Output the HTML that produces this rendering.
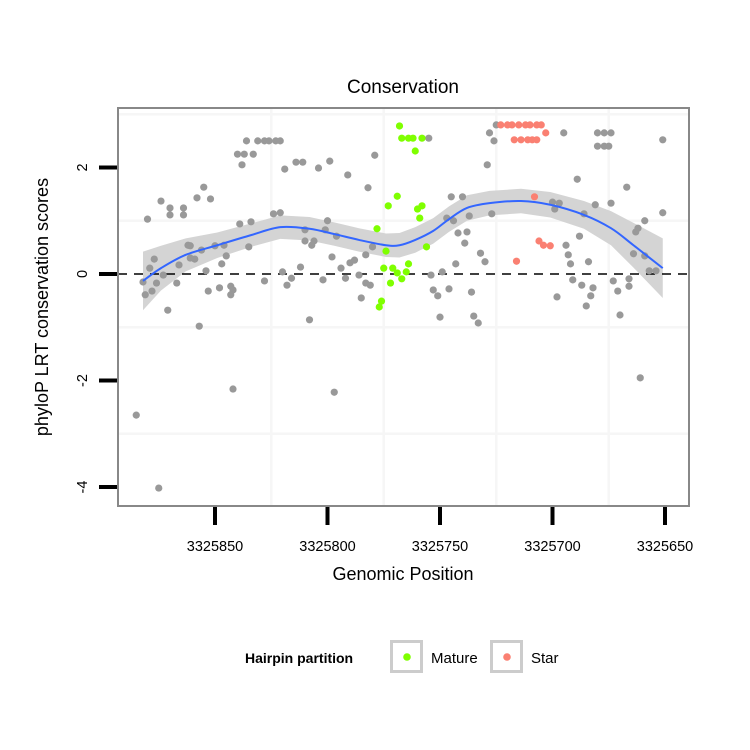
<!DOCTYPE html>
<html><head><meta charset="utf-8"><style>
html,body{margin:0;padding:0;background:#fff;}
svg{display:block;font-family:"Liberation Sans",sans-serif;}
</style></head><body>
<svg id="chart" width="750" height="750" viewBox="0 0 750 750">
<rect x="0" y="0" width="750" height="750" fill="#fff"/>
<text x="403" y="93" font-size="19" text-anchor="middle">Conservation</text>
<rect x="118" y="108" width="571" height="398" fill="#fff"/>
<g id="grid"></g>
<g id="band"></g>
<line x1="118" x2="689" id="zeroline" stroke="#000" stroke-width="1.6" stroke-dasharray="9,7"/>
<g id="points"></g>
<g id="smooth"></g>
<rect x="118" y="108" width="571" height="398" fill="none" stroke="#888" stroke-width="2"/>
<g id="xaxis"></g>
<g id="yaxis"></g>
<text x="403" y="580" font-size="18" text-anchor="middle">Genomic Position</text>
<text transform="translate(48,307) rotate(-90)" font-size="18" text-anchor="middle">phyloP LRT conservation scores</text>
<g>
<text x="245" y="663" font-size="14" font-weight="bold">Hairpin partition</text>
<g>
<rect x="391.5" y="641.5" width="30" height="30" fill="#fff" stroke="#ccc" stroke-width="3"/>
<circle cx="407" cy="657" r="3.8" fill="#7FFF00"/>
<text x="431" y="663" font-size="15">Mature</text>
</g>
<g>
<rect x="491.5" y="641.5" width="30" height="30" fill="#fff" stroke="#ccc" stroke-width="3"/>
<circle cx="507" cy="657" r="3.8" fill="#FA8072"/>
<text x="531" y="663" font-size="15">Star</text>
</g>
</g>
</svg>
<script>
const xTicks = [3325850, 3325800, 3325750, 3325700, 3325650];
const yTicks = [2, 0, -2, -4];
const greyPos = [3325880,3325874,3325870,3325864,3325870,3325864,3325858,3325855,3325852,3325836,3325831,3325828,3325826,3325823,3325821,3325840,3325837,3325833,3325838,3325819,3325814,3325811,3325804,3325799,3325791,3325779,3325782,3325839,3325834,3325824,3325821,3325800,3325810,3325801,3325796,3325810,3325806,3325807,3325862,3325861,3325856,3325850,3325846,3325861,3325859,3325835,3325845,3325847,3325877,3325879,3325866,3325873,3325854,3325882,3325876,3325867,3325881,3325878,3325871,3325853,3325848,3325843,3325842,3325843,3325828,3325820,3325816,3325818,3325812,3325808,3325798,3325794,3325792,3325790,3325788,3325802,3325786,3325783,3325783,3325781,3325785,3325857,3325875,3325885,3325842,3325797,3325780,
3325755,3325728,3325726,3325725,3325695,3325680,3325677,3325674,3325680,3325677,3325675,3325651,3325729,3325689,3325667,3325745,3325740,3325747,3325744,3325737,3325727,3325700,3325697,3325699,3325681,3325674,3325686,3325651,3325659,3325662,3325663,3325742,3325738,3325739,3325688,3325694,3325732,3325730,3325693,3325692,3325684,3325743,3325664,3325659,3325657,3325654,3325754,3325749,3325746,3325753,3325751,3325736,3325691,3325687,3325682,3325683,3325673,3325666,3325666,3325671,3325698,3325685,3325670,3325750,3325735,3325733,3325661];
const greyVal = [1.03,1.37,1.24,1.24,1.11,1.11,1.43,1.63,1.41,2.50,2.50,2.50,2.50,2.50,2.50,2.25,2.25,2.25,2.05,1.97,2.10,2.10,1.99,2.12,1.86,2.23,1.62,0.94,0.98,1.13,1.15,1.00,0.83,0.83,0.71,0.62,0.62,0.54,0.54,0.53,0.45,0.53,0.54,0.30,0.28,0.51,0.34,0.19,0.28,0.11,0.17,-0.02,0.06,-0.15,-0.17,-0.17,-0.39,-0.32,-0.68,-0.32,-0.26,-0.23,-0.30,-0.39,-0.13,0.04,-0.08,-0.21,0.13,-0.86,0.32,0.11,-0.08,0.21,0.26,-0.11,-0.02,0.36,-0.17,-0.21,-0.45,-0.98,-4.02,-2.65,-2.16,-2.22,0.51,
2.55,2.65,2.50,2.80,2.65,2.65,2.65,2.65,2.40,2.40,2.40,2.52,2.05,1.78,1.63,1.45,1.45,1.05,1.00,1.09,1.13,1.35,1.33,1.22,1.30,1.33,1.13,1.15,1.00,0.86,0.79,0.77,0.79,0.58,0.71,0.54,0.39,0.23,0.36,0.19,0.23,0.19,0.38,0.34,0.06,0.06,-0.02,0.04,-0.28,-0.30,-0.41,-0.34,-0.11,-0.21,-0.26,-0.41,-0.13,-0.09,-0.23,-0.32,-0.43,-0.60,-0.77,-0.81,-0.79,-0.92,-1.95];
const maturePos = [3325768,3325767,3325764,3325762,3325758,3325761,3325769,3325773,3325760,3325758,3325759,3325778,3325774,3325756,3325775,3325771,3325769,3325764,3325765,3325767,3325772,3325776,3325777];
const matureVal = [2.78,2.55,2.55,2.55,2.55,2.31,1.46,1.28,1.22,1.28,1.05,0.85,0.43,0.51,0.11,0.11,0.02,0.19,0.04,-0.09,-0.17,-0.51,-0.62];
const starPos = [3325723,3325720,3325718,3325715,3325712,3325710,3325707,3325705,3325717,3325714,3325711,3325709,3325707,3325703,3325708,3325706,3325704,3325701,3325716];
const starVal = [2.80,2.80,2.80,2.80,2.80,2.80,2.80,2.80,2.52,2.52,2.52,2.52,2.52,2.65,1.45,0.62,0.54,0.53,0.24];
const fitPos = [3325882,3325874,3325863,3325849,3325834,3325821,3325808,3325797,3325786,3325774,3325768,3325761,3325753,3325746,3325738,3325728,3325714,3325701,3325686,3325674,3325664,3325651];
const fitVal = [-0.13,0.11,0.36,0.54,0.73,0.88,0.85,0.75,0.64,0.54,0.54,0.64,0.81,1.03,1.24,1.33,1.37,1.30,1.11,0.86,0.54,0.11];
const fitSe = [0.55,0.42,0.31,0.24,0.22,0.22,0.22,0.22,0.22,0.22,0.23,0.24,0.24,0.24,0.24,0.23,0.23,0.24,0.26,0.32,0.42,0.56];

const NS = 'http://www.w3.org/2000/svg';
function sx(p){ return 215 + (3325850 - p) * 2.25; }
function sy(v){ return 274 - v * 53.25; }
function mk(tag, attrs, parent){ const e = document.createElementNS(NS, tag); for (const k in attrs) e.setAttribute(k, attrs[k]); parent.appendChild(e); return e; }

const grid = document.getElementById('grid');
[sx(3325825), sx(3325775), sx(3325725), sx(3325675)].forEach(x => {
  const l = mk('line', {x1:x, x2:x, y1:108, y2:506, stroke:'#f6f6f6', 'stroke-width':2.5}, grid);
  
  
});
[3, 1, -1, -3].forEach(v => {
  const y = sy(v);
  const l = mk('line', {x1:118, x2:689, y1:y, y2:y, stroke:'#f6f6f6', 'stroke-width':2.5}, grid);
  
  
});

const zl = document.getElementById('zeroline');
zl.setAttribute('y1', sy(0)); zl.setAttribute('y2', sy(0));

const band = document.getElementById('band');
let d = '';
fitPos.forEach((p,i) => { d += (i ? 'L' : 'M') + sx(p) + ',' + sy(fitVal[i] + fitSe[i]); });
for (let i = fitPos.length - 1; i >= 0; i--) d += 'L' + sx(fitPos[i]) + ',' + sy(fitVal[i] - fitSe[i]);
const bp = mk('path', {d: d + 'Z', fill:'#d4d4d4'}, band);



const pts = document.getElementById('points');
function drawSeries(pos, val, color, name){
  pos.forEach((p,i) => {
    const c = mk('circle', {cx: sx(p), cy: sy(val[i]), r: 3.6, fill: color}, pts);
    
    
  });
}
drawSeries(greyPos, greyVal, '#999999', 'point-other');
drawSeries(maturePos, matureVal, '#7FFF00', 'point-mature');
drawSeries(starPos, starVal, '#FA8072', 'point-star');

const sm = document.getElementById('smooth');
const P = fitPos.map((p,i) => [sx(p), sy(fitVal[i])]);
let ld = 'M' + P[0][0] + ',' + P[0][1];
for (let i = 0; i < P.length - 1; i++) {
  const p0 = P[i-1] || P[i], p1 = P[i], p2 = P[i+1], p3 = P[i+2] || P[i+1];
  ld += 'C' + (p1[0] + (p2[0]-p0[0])/6) + ',' + (p1[1] + (p2[1]-p0[1])/6) + ' ' + (p2[0] - (p3[0]-p1[0])/6) + ',' + (p2[1] - (p3[1]-p1[1])/6) + ' ' + p2[0] + ',' + p2[1];
}
const ln = mk('path', {d: ld, fill:'none', stroke:'#3366FF', 'stroke-width':2}, sm);



const xa = document.getElementById('xaxis');
xTicks.forEach(t => {
  const x = sx(t);
  const tk = mk('line', {x1:x, x2:x, y1:507, y2:525, stroke:'#000', 'stroke-width':4}, xa);
  
  
  const tx = mk('text', {x:x, y:551, 'font-size':14.5, 'text-anchor':'middle'}, xa);
  tx.textContent = t;
  
  
});
const ya = document.getElementById('yaxis');
yTicks.forEach(t => {
  const y = sy(t);
  const tk = mk('line', {x1:99, x2:117, y1:y, y2:y, stroke:'#000', 'stroke-width':4}, ya);
  
  
  const tx = mk('text', {transform:'translate(87,' + y + ') rotate(-90)', 'font-size':14.5, 'text-anchor':'middle'}, ya);
  tx.textContent = t;
  
  
});
</script>
</body></html>
